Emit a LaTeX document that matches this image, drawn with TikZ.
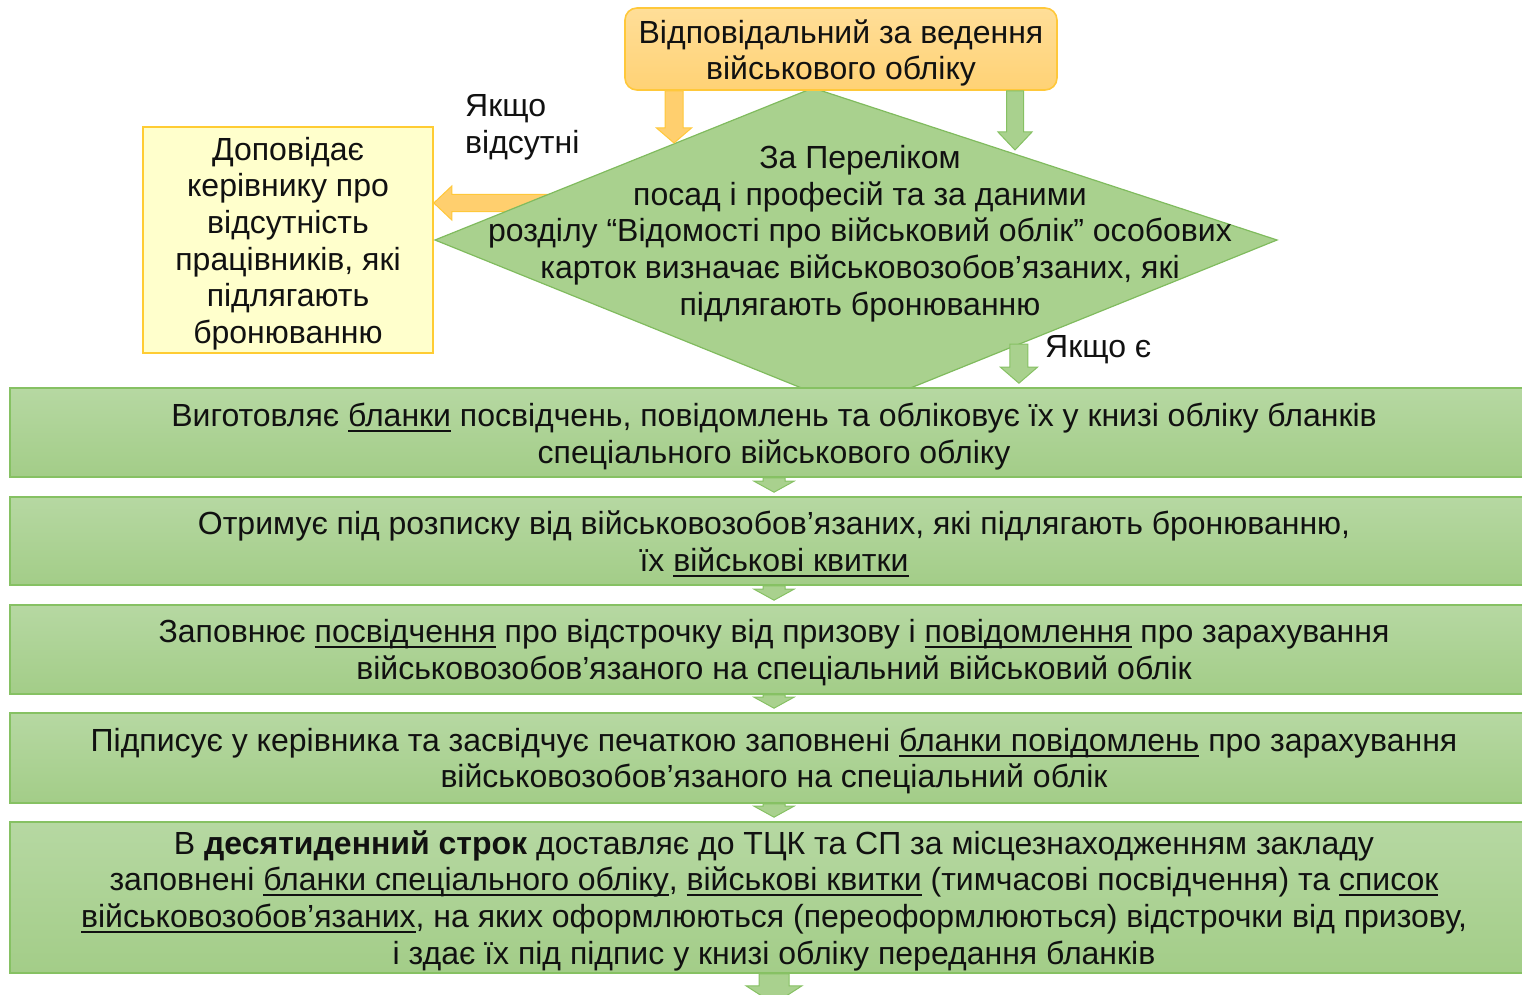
\documentclass[tikz,border=0pt]{standalone}
\usepackage{fontspec}
\setmainfont{Liberation Sans}
\usetikzlibrary{calc}
\definecolor{gtop}{HTML}{B6D8A2}
\definecolor{gbot}{HTML}{A3CD88}
\definecolor{gline}{HTML}{86C163}
\definecolor{dfill}{HTML}{A9D18E}
\definecolor{dline}{HTML}{80BB5E}
\definecolor{otop}{HTML}{FFDE98}
\definecolor{obot}{HTML}{FFD275}
\definecolor{oline}{HTML}{FFC83A}
\definecolor{ofill}{HTML}{FFCF6E}
\definecolor{yfill}{HTML}{FFFFCC}
\definecolor{yline}{HTML}{FFCC33}
\definecolor{txt}{HTML}{111111}
\newsavebox\ulbox
\newsavebox\sdbox
\newcommand\myul[1]{\leavevmode\sbox\ulbox{#1}\rlap{\rule[-5.5pt]{\wd\ulbox}{2.2pt}}\usebox\ulbox}
% text block lowered by #1 without changing the node's extent
\newcommand\sdown[3]{\sbox\sdbox{\parbox{#2}{\centering #3}}\raisebox{-#1}[\ht\sdbox][\dp\sdbox]{\usebox\sdbox}}
\newcommand\vblock[6]{%
  \draw[#6] ($(#1)+(-#3,0)$) -- ($(#2)+(-#3,-#5)$) -- ($(#2)+(-#4,-#5)$) -- (#2)
    -- ($(#2)+(#4,-#5)$) -- ($(#2)+(#3,-#5)$) -- ($(#1)+(#3,0)$) -- cycle;}
\newcommand\hblockleft[6]{%
  \draw[#6] ($(#1)+(0,-#3)$) -- ($(#2)+(#5,-#3)$) -- ($(#2)+(#5,-#4)$) -- (#2)
    -- ($(#2)+(#5,#4)$) -- ($(#2)+(#5,#3)$) -- ($(#1)+(0,#3)$) -- cycle;}
\tikzset{
  base/.style={font=\fontsize{32}{36.7}\selectfont, text=txt, align=center, inner sep=0pt},
  gbox/.style={base, draw=gline, line width=1.6pt, top color=gtop, bottom color=gbot,
    minimum width=1528pt},
  obox/.style={base, draw=oline, line width=1.6pt, top color=otop, bottom color=obot,
    rounded corners=12pt, minimum width=432pt, minimum height=82pt},
  ybox/.style={base, draw=yline, line width=1.6pt, fill=yfill,
    minimum width=290pt, minimum height=226pt},
  dshape/.style={draw=dline, line width=1.2pt, fill=dfill},
  lbl/.style={base, align=left, anchor=west},
  oarrow/.style={draw=oline, line width=1pt, fill=ofill},
  garrow/.style={draw=gline, line width=1pt, fill=dfill},
}
\begin{document}
\begin{tikzpicture}[x=1pt,y=-1pt]
\useasboundingbox (0,0) rectangle (1522,995);
% diamond corners
\coordinate (dl) at (435,240);
\coordinate (dt) at (813,88);
\coordinate (dr) at (1277,240);
\coordinate (db) at (856,410);
% left box and orange arrow (behind the diamond)
\node[ybox] (yel) at (288,240) {\sdown{3.5pt}{286pt}{Доповідає\\керівнику про\\відсутність\\працівників, які\\підлягають\\бронюванню}};
\coordinate (ls) at (560,203);
\coordinate (le) at (yel.east |- ls);
\hblockleft{ls}{le}{8.5}{17}{18}{oarrow}
% diamond
\draw[dshape] (dl) -- (dt) -- (dr) -- (db) -- cycle;
\node[base] (dtxt) at (860,233.5) {За Переліком\\посад і професій та за даними\\розділу “Відомості про військовий облік” особових\\карток визначає військовозобов’язаних, які\\підлягають бронюванню};
% top box
\node[obox] (top) at (841,49) {\sdown{4pt}{430pt}{Відповідальний за ведення\\військового обліку}};
\coordinate (oe) at (674,143);
\coordinate (os) at (top.south -| oe);
\vblock{os}{oe}{9}{17.5}{15}{oarrow}
\coordinate (ge) at (1015,150);
\coordinate (gs) at (top.south -| ge);
\vblock{gs}{ge}{8.5}{17}{18}{garrow}
\node[lbl] (absent) at (465,127) {Якщо\\відсутні};
% arrow "Якщо є"
\coordinate (ys) at ($(dr)!0.613!(db)$);
\coordinate (ye) at ($(ys)+(0,39)$);
\vblock{ys}{ye}{9}{18.5}{16}{garrow}
\node[lbl] (yes) at (1045,350) {Якщо є};
% green boxes
\node[gbox, minimum height=89pt] (b1) at (774,432.5) {\sdown{4pt}{1500pt}{Виготовляє \myul{бланки} посвідчень, повідомлень та обліковує їх у книзі обліку бланків\\спеціального військового обліку}};
\node[gbox, minimum height=88pt] (b2) at (774,541) {\sdown{3pt}{1500pt}{Отримує під розписку від військовозобов’язаних, які підлягають бронюванню,\\їх \myul{військові квитки}}};
\node[gbox, minimum height=89pt] (b3) at (774,649.5) {\sdown{3pt}{1500pt}{Заповнює \myul{посвідчення} про відстрочку від призову і \myul{повідомлення} про зарахування\\військовозобов’язаного на спеціальний військовий облік}};
\node[gbox, minimum height=90pt] (b4) at (774,758) {\sdown{3pt}{1500pt}{Підписує у керівника та засвідчує печаткою заповнені \myul{бланки повідомлень} про зарахування\\військовозобов’язаного на спеціальний облік}};
\node[gbox, minimum height=151pt] (b5) at (774,897.5) {\sdown{3pt}{1500pt}{В \textbf{десятиденний строк} доставляє до ТЦК та СП за місцезнаходженням закладу\\заповнені \myul{бланки спеціального обліку}, \myul{військові квитки} (тимчасові посвідчення) та \myul{список}\\\myul{військовозобов’язаних}, на яких оформлюються (переоформлюються) відстрочки від призову,\\і здає їх під підпис у книзі обліку передання бланків}};
% small arrows between boxes
\coordinate (t12) at ($(b2.north)+(0,-4)$);
\vblock{b1.south}{t12}{11}{20}{11}{garrow}
\coordinate (t23) at ($(b3.north)+(0,-4)$);
\vblock{b2.south}{t23}{11}{20}{11}{garrow}
\coordinate (t34) at ($(b4.north)+(0,-4)$);
\vblock{b3.south}{t34}{11}{20}{11}{garrow}
\coordinate (t45) at ($(b5.north)+(0,-4)$);
\vblock{b4.south}{t45}{11}{20}{11}{garrow}
\coordinate (tend) at ($(b5.south)+(0,30)$);
\vblock{b5.south}{tend}{15}{28}{18}{garrow}
\end{tikzpicture}
\end{document}
